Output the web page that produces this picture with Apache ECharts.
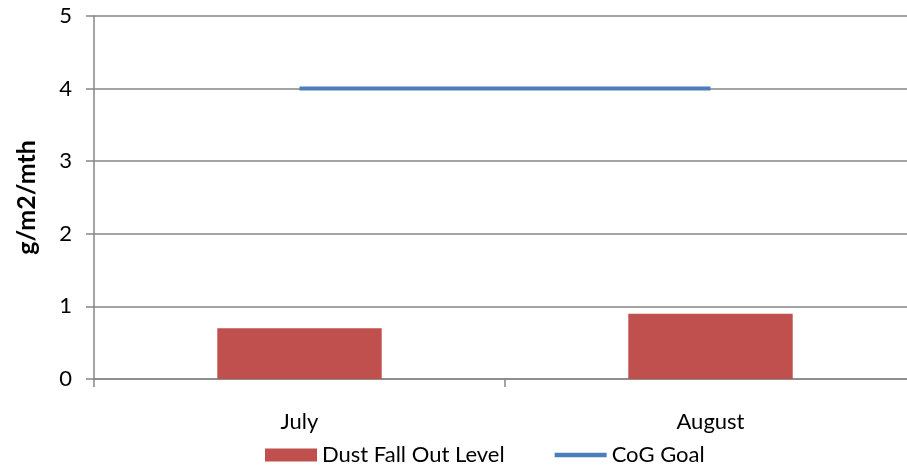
<!DOCTYPE html>
<html>
<head>
<meta charset="utf-8">
<script src="https://cdn.jsdelivr.net/npm/echarts@6/dist/echarts.min.js"></script>
<style>
html, body { margin: 0; padding: 0; background: #fff; }
#dustchart { width: 907px; height: 473px; }
</style>
</head>
<body>
<div id="dustchart"></div>
<script>
// 数据
var months = ['July', 'August'];
var dustLevel = [0.7, 0.9];
var cogGoal = [4, 4];

var dustchartObj = document.getElementById('dustchart');
var dustchartChart = echarts.init(dustchartObj);

var option = {
    animation: false,
    textStyle: {
        fontFamily: 'Lato',
        color: '#000'
    },
    grid: {
        left: 94,
        width: 822,
        top: 16,
        height: 363,
        outerBoundsMode: 'none',
        containLabel: false
    },
    legend: {
        bottom: 2,
        left: 260,
        itemWidth: 52,
        itemHeight: 13,
        itemGap: 50,
        textStyle: { fontSize: 22, color: '#000' },
        data: [
            { name: 'Dust Fall Out Level', icon: 'rect' },
            { name: 'CoG Goal', icon: 'path://M0,0L56,0L56,5L0,5Z' }
        ]
    },
    xAxis: {
        type: 'category',
        data: months,
        axisLine: { lineStyle: { color: '#868686', width: 1.5 } },
        axisTick: { show: true, length: 8, lineStyle: { color: '#868686', width: 1.5 } },
        axisLabel: { fontSize: 22, color: '#000', margin: 32 }
    },
    yAxis: {
        type: 'value',
        min: 0,
        max: 5,
        interval: 1,
        name: 'g/m2/mth',
        nameLocation: 'middle',
        nameGap: 55,
        nameTextStyle: { fontSize: 25, fontWeight: 'bold', color: '#000' },
        axisLine: { show: true, lineStyle: { color: '#868686', width: 1.5 } },
        axisTick: { show: true, length: 8, lineStyle: { color: '#868686', width: 1.5 } },
        axisLabel: { fontSize: 22, color: '#000', margin: 22 },
        splitLine: { show: true, lineStyle: { color: '#868686', width: 1.5 } }
    },
    series: [
        {
            name: 'Dust Fall Out Level',
            type: 'bar',
            data: dustLevel,
            barWidth: '40%',
            itemStyle: { color: '#C0504D' }
        },
        {
            name: 'CoG Goal',
            type: 'line',
            data: cogGoal,
            symbol: 'none',
            lineStyle: { color: '#4A7EBB', width: 4 },
            itemStyle: { color: '#4A7EBB' }
        }
    ]
};

dustchartChart.setOption(option);
</script>
</body>
</html>
